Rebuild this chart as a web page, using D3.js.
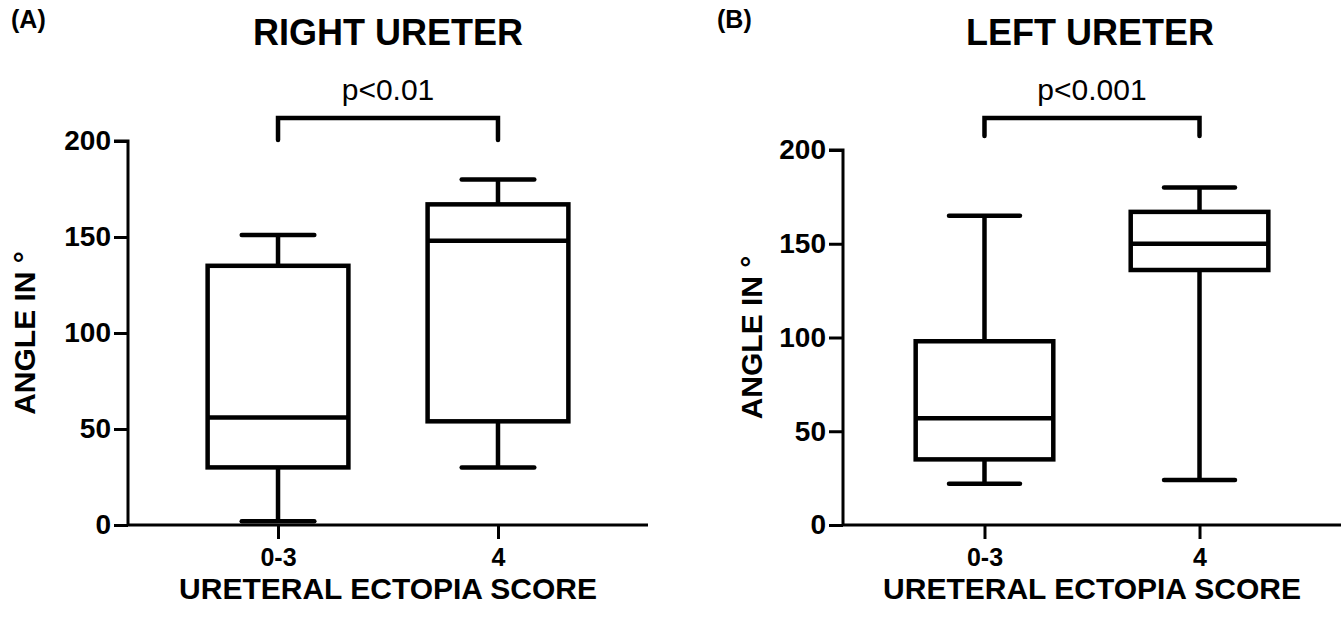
<!DOCTYPE html>
<html>
<head>
<meta charset="utf-8">
<script src="https://cdn.jsdelivr.net/npm/d3@7"></script>
<style>
  html, body { margin: 0; padding: 0; background: #fff; }
  svg { display: block; }
  text { font-family: "Liberation Sans", Arial, Helvetica, sans-serif; fill: #000; }
</style>
</head>
<body>
<svg id="chart" width="1341" height="623"></svg>
<script>
// ---- data ----
const categories = ["0-3", "4"];
const yTicks = [0, 50, 100, 150, 200];
const panelLetters = ["(A)", "(B)"];
const panelTitles = ["RIGHT URETER", "LEFT URETER"];
const pLabels = ["p<0.01", "p<0.001"];
const yLabel = "ANGLE IN °";
const xLabel = "URETERAL ECTOPIA SCORE";
// box stats per category: [min, q1, median, q3, max]
const rightMin = [2, 30];
const rightQ1 = [30, 54];
const rightMedian = [56, 148];
const rightQ3 = [135, 167];
const rightMax = [151, 180];
const leftMin = [22, 24];
const leftQ1 = [35, 136];
const leftMedian = [57, 150];
const leftQ3 = [98, 167];
const leftMax = [165, 180];

const svg = d3.select("#chart");

const panels = [
  { letter: panelLetters[0], title: panelTitles[0], p: pLabels[0],
    min: rightMin, q1: rightQ1, med: rightMedian, q3: rightQ3, max: rightMax,
    x0: 128, x1: 648, xPad: 0.682, yBottom: 525, yTop: 141,
    letterX: 11, titleX: 388, yLabelX: 35, bracketY: 118, bracketDrop: 22 },
  { letter: panelLetters[1], title: panelTitles[1], p: pLabels[1],
    min: leftMin, q1: leftQ1, med: leftMedian, q3: leftQ3, max: leftMax,
    x0: 843, x1: 1341, xPad: 0.658, yBottom: 525, yTop: 150,
    letterX: 717, titleX: 1090, yLabelX: 762, bracketY: 118, bracketDrop: 18 }
];

panels.forEach(P => {
  const g = svg.append("g");
  const x = d3.scalePoint().domain(categories).range([P.x0, P.x1]).padding(P.xPad);
  const y = d3.scaleLinear().domain([0, 200]).range([P.yBottom, P.yTop]);
  const boxW = x.step() * 0.64;
  const capW = x.step() * 0.33;

  // y axis
  const yAxis = g.append("g").attr("transform", `translate(${P.x0},0)`)
    .call(d3.axisLeft(y).tickValues(yTicks).tickSize(14).tickPadding(3).tickFormat(d3.format("d")));
  yAxis.select(".domain").attr("stroke", "#000").attr("stroke-width", 3).attr("d", `M-14,${y(200)}H0V${y(0)}`);
  yAxis.selectAll(".tick line").attr("stroke", "#000").attr("stroke-width", 3);
  yAxis.selectAll(".tick text").attr("font-size", 28).attr("font-weight", "bold")
    .attr("font-family", "Liberation Sans, Arial, sans-serif").attr("fill", "#000");

  // x axis
  const xAxis = g.append("g").attr("transform", `translate(0,${P.yBottom})`)
    .call(d3.axisBottom(x).tickSize(14).tickPadding(9));
  xAxis.select(".domain").attr("stroke", "#000").attr("stroke-width", 3).attr("d", `M${P.x0},0H${P.x1}`);
  xAxis.selectAll(".tick line").attr("stroke", "#000").attr("stroke-width", 3);
  xAxis.selectAll(".tick text").attr("font-size", 25).attr("font-weight", "bold")
    .attr("font-family", "Liberation Sans, Arial, sans-serif").attr("fill", "#000");

  // boxes
  categories.forEach((c, i) => {
    const cx = x(c);
    const bg = g.append("g").attr("stroke", "#000").attr("stroke-width", 4.5).attr("fill", "none");
    // whiskers
    bg.append("line").attr("x1", cx).attr("x2", cx).attr("y1", y(P.max[i])).attr("y2", y(P.q3[i]));
    bg.append("line").attr("x1", cx).attr("x2", cx).attr("y1", y(P.q1[i])).attr("y2", y(P.min[i]));
    // caps
    bg.append("line").attr("x1", cx - capW / 2).attr("x2", cx + capW / 2)
      .attr("y1", y(P.max[i])).attr("y2", y(P.max[i])).attr("stroke-linecap", "round");
    bg.append("line").attr("x1", cx - capW / 2).attr("x2", cx + capW / 2)
      .attr("y1", y(P.min[i])).attr("y2", y(P.min[i])).attr("stroke-linecap", "round");
    // box
    bg.append("rect").attr("x", cx - boxW / 2).attr("width", boxW)
      .attr("y", y(P.q3[i])).attr("height", y(P.q1[i]) - y(P.q3[i])).attr("fill", "#fff");
    // median
    bg.append("line").attr("x1", cx - boxW / 2).attr("x2", cx + boxW / 2)
      .attr("y1", y(P.med[i])).attr("y2", y(P.med[i]));
  });

  // significance bracket
  const xa = x(categories[0]), xb = x(categories[1]);
  g.append("path")
    .attr("d", `M${xa},${P.bracketY + P.bracketDrop}V${P.bracketY}H${xb}V${P.bracketY + P.bracketDrop}`)
    .attr("fill", "none").attr("stroke", "#000").attr("stroke-width", 4.5)
    .attr("stroke-linecap", "round").attr("stroke-linejoin", "miter");
  g.append("text").attr("x", (xa + xb) / 2).attr("y", 100).attr("text-anchor", "middle")
    .attr("font-size", 30).text(P.p);

  // titles
  g.append("text").attr("x", P.titleX).attr("y", 45).attr("text-anchor", "middle")
    .attr("font-size", 36).attr("font-weight", "bold").text(P.title);
  g.append("text").attr("x", P.letterX).attr("y", 28)
    .attr("font-size", 25).attr("font-weight", "bold").text(P.letter);

  // axis labels
  g.append("text").attr("transform", `translate(${P.yLabelX},${(P.yTop + P.yBottom) / 2}) rotate(-90)`)
    .attr("text-anchor", "middle").attr("font-size", 30).attr("font-weight", "bold").text(yLabel);
  g.append("text").attr("x", (xa + xb) / 2).attr("y", 599).attr("text-anchor", "middle")
    .attr("font-size", 30).attr("font-weight", "bold").text(xLabel);
});
</script>
</body>
</html>
